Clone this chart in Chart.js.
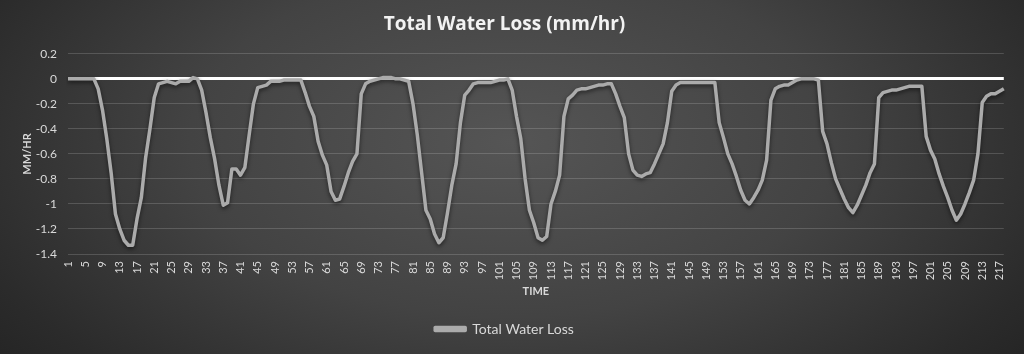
<!DOCTYPE html>
<html>
<head>
<meta charset="utf-8">
<script src="https://cdn.jsdelivr.net/npm/chart.js@4"></script>
<style>
  html, body { margin: 0; padding: 0; }
  body {
    width: 1024px; height: 354px; overflow: hidden;
    background: radial-gradient(ellipse 70% 110% at 50% 40%, #555555 0%, #434343 45%, #2b2b2b 80%, #202020 100%);
  }
  #wrap { position: relative; width: 1024px; height: 354px; }
</style>
</head>
<body>
<div id="wrap"><canvas id="lossChart"></canvas></div>
<script>
// total water loss (mm/hr), one value per time step
let waterLoss = [
    0, 0, 0, 0, 0, 0, 0,
    -0.08, -0.25, -0.48, -0.75, -1.08, -1.2, -1.29, -1.33,
    -1.33, -1.12, -0.95, -0.63, -0.4, -0.15, -0.04,
    -0.03, -0.02, -0.03, -0.04, -0.02, -0.02, -0.02, 0.01, 0,
    -0.09, -0.27, -0.47, -0.64, -0.85, -1.01, -0.99, -0.72, -0.72, -0.77, -0.71, -0.45, -0.2, -0.07, -0.06, -0.05, -0.02,
    -0.02, -0.02, -0.01, -0.01, -0.01, -0.01,
    -0.01, -0.11, -0.22, -0.3, -0.5, -0.61, -0.69, -0.9, -0.97, -0.96, -0.86, -0.75, -0.66, -0.6, -0.12, -0.04, -0.02,
    -0.01, 0, 0.01, 0.01, 0.01, 0, 0, -0.01, -0.02,
    -0.2, -0.45, -0.75, -1.05, -1.12, -1.24, -1.31, -1.27, -1.07, -0.85, -0.68, -0.35, -0.13, -0.09, -0.04,
    -0.03, -0.03, -0.03, -0.03, -0.02, -0.01, -0.01, 0,
    -0.09, -0.3, -0.48, -0.8, -1.05, -1.15, -1.27, -1.29, -1.26, -1.0, -0.9, -0.77, -0.3, -0.16, -0.13, -0.09, -0.08, -0.08, -0.07, -0.06, -0.05, -0.05, -0.04, -0.04,
    -0.12, -0.22, -0.31, -0.6, -0.73, -0.77, -0.78, -0.76, -0.75, -0.68, -0.6, -0.52, -0.35, -0.1, -0.05,
    -0.03, -0.03, -0.03, -0.03, -0.03, -0.03, -0.03, -0.03, -0.03,
    -0.35, -0.47, -0.6, -0.68, -0.78, -0.89, -0.97, -1.0, -0.95, -0.89, -0.81, -0.65, -0.17, -0.08, -0.06, -0.05, -0.05, -0.03, -0.01,
    0, 0, 0, 0, -0.01,
    -0.42, -0.52, -0.67, -0.8, -0.88, -0.96, -1.03, -1.07, -1.01, -0.93, -0.85, -0.75, -0.68, -0.15, -0.11, -0.1, -0.09, -0.09, -0.08, -0.07, -0.06, -0.06, -0.06, -0.06,
    -0.46, -0.57, -0.64, -0.76, -0.86, -0.95, -1.05, -1.13, -1.08, -1.0, -0.91, -0.81, -0.6, -0.19, -0.14, -0.12, -0.12, -0.1, -0.08
];
// time steps 1..218 (category labels)
let timeSteps = waterLoss.map((v, i) => String(i + 1));
let yMin = -1.4, yMax = 0.2, yStep = 0.2;

const FONT = "Lato, 'Open Sans', sans-serif";
const TEXT = "#d9d9d9";

// soft shadow under the line, like the office style
const lineShadow = {
    id: 'lineShadow',
    beforeDatasetsDraw(chart) {
        chart.ctx.save();
        chart.ctx.shadowColor = 'rgba(0,0,0,0.55)';
        chart.ctx.shadowBlur = 4;
        chart.ctx.shadowOffsetY = 2;
    },
    afterDatasetsDraw(chart) {
        chart.ctx.restore();
    }
};

const ctx = document.getElementById('lossChart').getContext('2d');
let lossChart = new Chart(ctx, {
    type: 'line',
    data: {
        labels: timeSteps,
        datasets: [{
            label: 'Total Water Loss',
            data: waterLoss,
            borderColor: '#ababab',
            backgroundColor: '#ababab',
            borderWidth: 3.5,
            pointRadius: 0,
            tension: 0,
            borderJoinStyle: 'round'
        }]
    },
    options: {
        responsive: true,
        maintainAspectRatio: false,
        animation: false,
        layout: { padding: { left: 0, right: 15, top: 0, bottom: 8 } },
        plugins: {
            title: {
                display: true,
                text: 'Total Water Loss (mm/hr)',
                color: '#f2f2f2',
                font: { family: "'Open Sans', sans-serif", size: 19, weight: 'bold' },
                padding: { top: 13, bottom: 18 }
            },
            legend: {
                position: 'bottom',
                labels: {
                    color: TEXT,
                    font: { family: FONT, size: 14 },
                    boxWidth: 30,
                    boxHeight: 3,
                    padding: 8
                }
            },
            tooltip: { enabled: false }
        },
        scales: {
            x: {
                grid: { display: false, drawTicks: false },
                border: { display: false },
                ticks: {
                    color: TEXT,
                    font: { family: FONT, size: 11 },
                    autoSkip: false,
                    maxRotation: 90,
                    minRotation: 90,
                    padding: 7,
                    callback: (val, idx) => idx % 4 === 0 ? timeSteps[idx] : ''
                },
                title: {
                    display: true,
                    text: 'TIME',
                    color: TEXT,
                    font: { family: FONT, size: 11, weight: 'bold' },
                    padding: { top: 0, bottom: 16 }
                },
                afterFit: s => { s.height = 60; }
            },
            y: {
                min: yMin,
                max: yMax,
                grid: {
                    drawTicks: false,
                    color: c => c.tick && c.tick.value === 0 ? '#ffffff' : 'rgba(255,255,255,0.16)',
                    lineWidth: c => c.tick && c.tick.value === 0 ? 3 : 1
                },
                border: { display: false },
                ticks: {
                    stepSize: yStep,
                    color: TEXT,
                    font: { family: FONT, size: 12 },
                    padding: 11,
                    callback: v => String(Number(v.toFixed(1)))
                },
                title: {
                    display: true,
                    text: 'MM/HR',
                    color: TEXT,
                    font: { family: FONT, size: 11, weight: 'bold' },
                    padding: { top: 21, bottom: 0 }
                },
                afterFit: s => { s.width = 68; }
            }
        }
    },
    plugins: [lineShadow]
});
</script>
</body>
</html>
